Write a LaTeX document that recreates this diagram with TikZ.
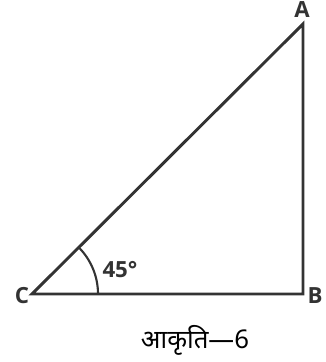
\documentclass[tikz,border=0pt]{standalone}
\usepackage{fontspec}
\setmainfont{Open Sans}
\newfontfamily\devfont[Script=Devanagari]{Noto Sans}
\usetikzlibrary{calc}
\definecolor{inkgray}{HTML}{333333}

\begin{document}
\begin{tikzpicture}[x=0.03cm, y=0.03cm, line width=2.5pt, draw=inkgray,
    vlabel/.style={font=\fontsize{19}{22}\selectfont\bfseries, text=inkgray, inner sep=0pt}]
\useasboundingbox (0,0) rectangle (325,362);

\coordinate (C) at (32,68);
\coordinate (B) at (303,68);
\coordinate (A) at (303,338);

\draw[inkgray, line join=miter] (A) -- (B) -- (C) -- cycle;

% angle mark at C
\draw[inkgray, line width=1.8pt] ($(C)+(66,0)$) arc[start angle=0, end angle=45, radius=66];

\node[vlabel] (lA) at (302,352) {A};
\node[vlabel] (lB) at (315,66) {B};
\node[vlabel] (lC) at (22,66) {C};
\node[vlabel] (ang) at (120,92) {45°};

\node[font=\devfont\fontsize{22}{26}\selectfont, text=black, inner sep=0pt] (cap) at (195,22) {आकृति—6};
\end{tikzpicture}
\end{document}
